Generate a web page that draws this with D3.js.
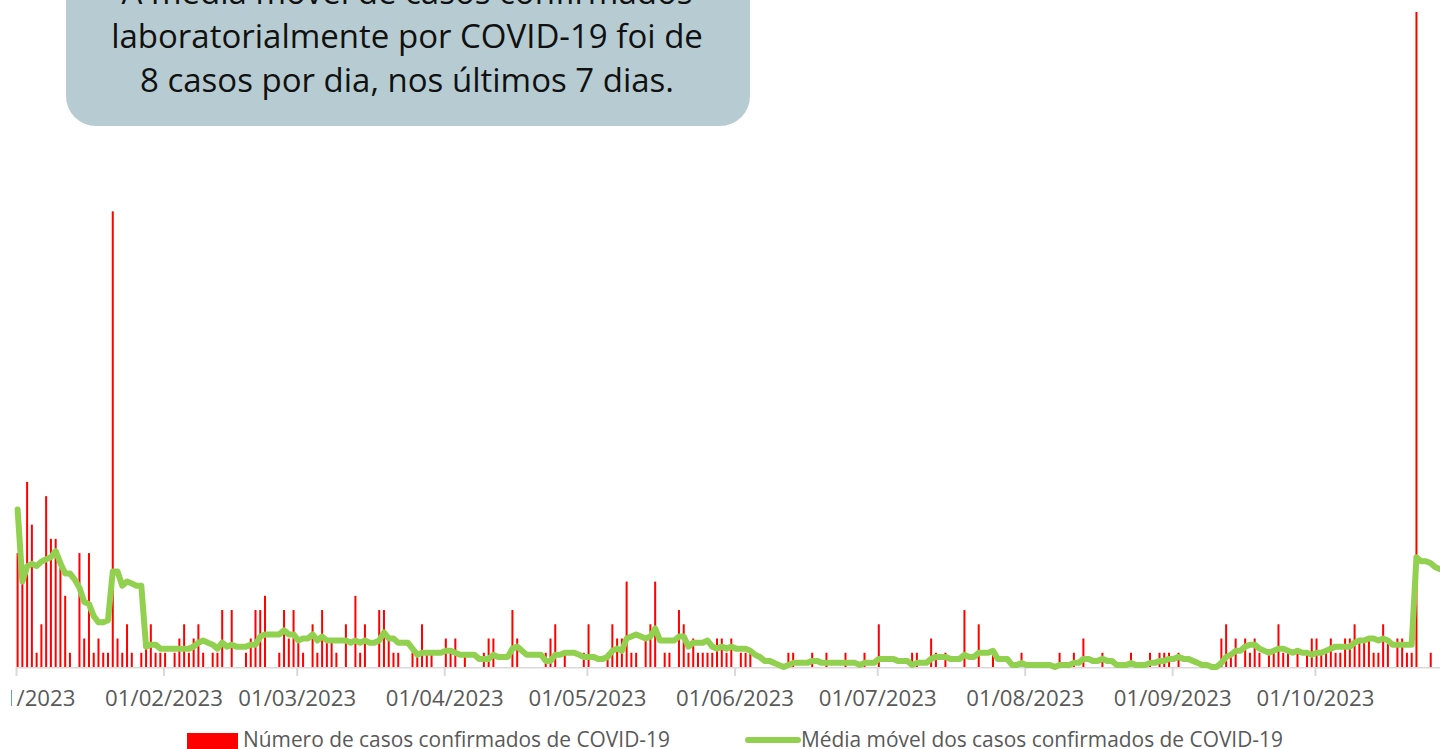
<!DOCTYPE html>
<html>
<head>
<meta charset="utf-8">
<script src="https://cdn.jsdelivr.net/npm/d3@7/dist/d3.min.js"></script>
<style>
	html, body { margin: 0; padding: 0; background: #fff; overflow: hidden; }
	svg { display: block; font-family: "Open Sans", "DejaVu Sans", sans-serif; }
</style>
</head>
<body>
<svg id="chart"></svg>
<script>
// casos diarios a partir de 01/01/2023 (um valor por dia)
let casos = [
	8, 6, 13, 10, 1, 3, 12, 9, 9, 7, 5, 1, 0, 8, 2, 8, 1, 2, 1, 1,
	32, 2, 1, 3, 1, 0, 1, 2, 3, 1, 1, 1, 0, 1, 2, 3, 1, 2, 3, 1,
	0, 1, 1, 4, 0, 4, 0, 0, 1, 2, 4, 4, 5, 0, 0, 1, 4, 2, 4, 2,
	1, 0, 3, 1, 4, 2, 2, 1, 0, 3, 0, 5, 1, 3, 0, 0, 4, 4, 2, 1,
	1, 0, 0, 1, 1, 3, 1, 1, 0, 0, 2, 1, 2, 0, 1, 0, 0, 0, 1, 2,
	2, 0, 0, 0, 4, 2, 0, 0, 0, 0, 0, 1, 2, 3, 0, 1, 0, 0, 0, 1,
	3, 0, 0, 0, 1, 3, 2, 2, 6, 1, 1, 0, 2, 3, 6, 0, 1, 1, 0, 4,
	3, 1, 2, 1, 1, 1, 1, 2, 2, 1, 2, 0, 1, 1, 1, 0, 0, 0, 0, 0,
	0, 0, 1, 1, 0, 0, 0, 1, 0, 0, 1, 0, 0, 0, 1, 0, 0, 0, 1, 0,
	0, 3, 0, 0, 0, 0, 0, 0, 1, 1, 0, 0, 2, 1, 0, 1, 0, 0, 0, 4,
	0, 0, 3, 0, 0, 1, 0, 0, 0, 0, 0, 1, 0, 0, 0, 0, 0, 0, 0, 1,
	0, 0, 1, 0, 2, 0, 0, 0, 1, 0, 0, 0, 0, 0, 1, 0, 0, 0, 1, 0,
	1, 1, 1, 0, 1, 0, 0, 0, 0, 0, 0, 0, 0, 2, 3, 1, 2, 0, 2, 1,
	2, 1, 0, 1, 1, 3, 1, 1, 0, 1, 0, 1, 2, 2, 1, 1, 2, 1, 1, 2,
	2, 3, 2, 2, 2, 1, 1, 3, 2, 0, 2, 2, 1, 1, 46, 0, 0, 1, 0, 0
];

let mediaMovel = [
	11.06, 6.0, 7.06, 7.25, 7.1, 7.4, 7.57, 7.71, 8.14, 7.29, 6.57, 6.57, 6.14, 5.57, 4.57, 4.43, 3.57, 3.14, 3.14, 3.29,
	6.71, 6.71, 5.71, 6.0, 5.86, 5.71, 5.71, 1.43, 1.57, 1.57, 1.29, 1.29, 1.29, 1.29, 1.29, 1.29, 1.29, 1.43, 1.71, 1.86,
	1.71, 1.57, 1.29, 1.71, 1.43, 1.57, 1.43, 1.43, 1.43, 1.57, 1.57, 2.14, 2.29, 2.29, 2.29, 2.29, 2.57, 2.29, 2.29, 1.86,
	2.0, 2.0, 2.29, 1.86, 2.14, 1.86, 1.86, 1.86, 1.86, 1.86, 1.71, 1.86, 1.71, 1.86, 1.71, 1.71, 1.86, 2.43, 2.0, 2.0,
	1.71, 1.71, 1.71, 1.29, 0.86, 1.0, 1.0, 1.0, 1.0, 1.0, 1.14, 1.14, 1.0, 0.86, 0.86, 0.86, 0.86, 0.57, 0.57, 0.57,
	0.86, 0.71, 0.71, 0.71, 1.29, 1.43, 1.14, 0.86, 0.86, 0.86, 0.86, 0.43, 0.43, 0.86, 0.86, 1.0, 1.0, 1.0, 0.86, 0.71,
	0.71, 0.71, 0.57, 0.57, 0.71, 1.14, 1.29, 1.14, 2.0, 2.14, 2.29, 2.14, 2.0, 2.14, 2.71, 1.86, 1.86, 1.86, 1.86, 2.14,
	2.14, 1.43, 1.71, 1.71, 1.71, 1.86, 1.43, 1.29, 1.43, 1.29, 1.43, 1.29, 1.29, 1.29, 1.14, 0.86, 0.71, 0.43, 0.43, 0.29,
	0.14, 0, 0.14, 0.29, 0.29, 0.29, 0.29, 0.43, 0.43, 0.29, 0.29, 0.29, 0.29, 0.29, 0.29, 0.29, 0.29, 0.14, 0.29, 0.29,
	0.29, 0.57, 0.57, 0.57, 0.57, 0.43, 0.43, 0.43, 0.14, 0.29, 0.29, 0.29, 0.57, 0.71, 0.71, 0.71, 0.57, 0.57, 0.57, 0.86,
	0.71, 0.71, 1.0, 1.0, 1.0, 1.14, 0.57, 0.57, 0.57, 0.14, 0.14, 0.29, 0.14, 0.14, 0.14, 0.14, 0.14, 0.14, 0, 0.14,
	0.14, 0.14, 0.29, 0.29, 0.57, 0.57, 0.43, 0.43, 0.57, 0.43, 0.43, 0.14, 0.14, 0.14, 0.29, 0.14, 0.14, 0.14, 0.29, 0.29,
	0.43, 0.43, 0.57, 0.57, 0.71, 0.57, 0.57, 0.43, 0.29, 0.14, 0.14, 0, 0, 0.29, 0.71, 0.86, 1.14, 1.14, 1.43, 1.57,
	1.57, 1.29, 1.14, 1.0, 1.14, 1.29, 1.29, 1.14, 1.0, 1.14, 1.0, 1.0, 0.86, 1.0, 1.0, 1.14, 1.29, 1.43, 1.43, 1.43,
	1.43, 1.71, 1.86, 1.86, 2.0, 2.0, 1.86, 2.0, 1.86, 1.57, 1.57, 1.57, 1.57, 1.57, 7.71, 7.43, 7.43, 7.29, 7.0, 6.86
];

let tickLabels = ['01/01/2023', '01/02/2023', '01/03/2023', '01/04/2023', '01/05/2023',
	'01/06/2023', '01/07/2023', '01/08/2023', '01/09/2023', '01/10/2023'];

let boxLines = [
	'A média móvel de casos confirmados',
	'laboratorialmente por COVID-19 foi de',
	'8 casos por dia, nos últimos 7 dias.'
];

let legendLabels = ['Número de casos confirmados de COVID-19', 'Média móvel dos casos confirmados de COVID-19'];

// dd/mm/yyyy -> Date (UTC so no DST drift)
function parseLabel(s) {
	let p = s.split('/');
	return new Date(Date.UTC(+p[2], +p[1] - 1, +p[0]));
}
function dayDate(i) {
	return new Date(Date.UTC(2023, 0, 1 + i));
}

let W = 1440, H = 749;
let baseY = 667;
let barOff = 1.6; // bars sit a little right of the month tick

const svg = d3.select('#chart')
	.attr('width', W)
	.attr('height', H);

// the plot area starts a bit in from the left edge, first label gets clipped there
svg.append('defs')
	.append('clipPath')
	.attr('id', 'plotclip')
	.append('rect')
	.attr('x', 11).attr('y', 0)
	.attr('width', W).attr('height', H);

const x = d3.scaleUtc()
	.domain([dayDate(0), dayDate(304)])
	.range([16, 16 + 304 * 4.758]);

const y = d3.scaleLinear()
	.domain([0, 46])
	.range([baseY, 12]);

let bars = casos.map((v, i) => ({ d: dayDate(i), v: v })).filter(b => b.v > 0);

// text box (top cut off by the frame)
svg.append('rect')
	.attr('x', 66)
	.attr('y', -60)
	.attr('width', 684)
	.attr('height', 186)
	.attr('rx', 30)
	.attr('fill', '#b7ccd2');

svg.append('g')
	.selectAll('text')
	.data(boxLines)
	.enter()
	.append('text')
	.attr('x', 407)
	.attr('y', (d, i) => 4 + i * 44)
	.attr('text-anchor', 'middle')
	.attr('font-size', 33)
	.attr('fill', '#111')
	.text(d => d);

// axis
const xAxis = d3.axisBottom(x)
	.tickValues(tickLabels.map(parseLabel))
	.tickFormat((d, i) => tickLabels[i])
	.tickSize(9)
	.tickSizeOuter(0)
	.tickPadding(14);

const gx = svg.append('g')
	.attr('transform', 'translate(0,' + baseY + ')')
	.attr('clip-path', 'url(#plotclip)')
	.call(xAxis);
gx.select('.domain').attr('stroke', '#d9d9d9').attr('stroke-width', 2);
gx.selectAll('.tick line').attr('stroke', '#d9d9d9').attr('stroke-width', 2);
gx.selectAll('.tick text')
	.attr('fill', '#595959')
	.attr('font-size', 22.2)
	.attr('font-family', '"Open Sans", sans-serif');

// bars
svg.append('g')
	.selectAll('rect')
	.data(bars)
	.enter()
	.append('rect')
	.attr('x', b => x(b.d) + barOff - 1)
	.attr('y', b => y(b.v))
	.attr('width', 2)
	.attr('height', b => baseY - y(b.v))
	.attr('fill', '#ff0000');

// moving average
const line = d3.line()
	.x((d, i) => x(dayDate(i)) + barOff)
	.y(d => y(d));

svg.append('path')
	.datum(mediaMovel)
	.attr('d', line)
	.attr('fill', 'none')
	.attr('stroke', '#92d050')
	.attr('stroke-width', 6)
	.attr('stroke-linejoin', 'round')
	.attr('stroke-linecap', 'round');

// legend
const leg = svg.append('g').attr('font-size', 20.9).attr('fill', '#595959');
leg.append('rect')
	.attr('x', 187).attr('y', 733)
	.attr('width', 51).attr('height', 16)
	.attr('fill', '#ff0000');
leg.append('text')
	.attr('x', 243).attr('y', 747)
	.text(legendLabels[0]);
leg.append('line')
	.attr('x1', 748).attr('x2', 798)
	.attr('y1', 740).attr('y2', 740)
	.attr('stroke', '#92d050')
	.attr('stroke-width', 6)
	.attr('stroke-linecap', 'round');
leg.append('text')
	.attr('x', 801).attr('y', 747)
	.text(legendLabels[1]);
</script>
</body>
</html>
